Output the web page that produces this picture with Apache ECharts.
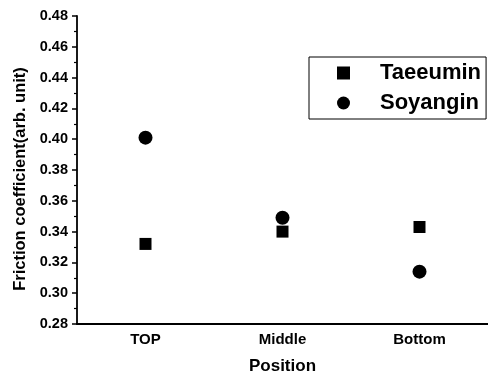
<!DOCTYPE html>
<html>
<head>
<meta charset="utf-8">
<script src="https://cdn.jsdelivr.net/npm/echarts@6/dist/echarts.min.js"></script>
<style>
html,body{margin:0;padding:0;background:#fff;}
#chart{width:488px;height:381px;}
</style>
</head>
<body>
<div id="chart"></div>
<script>
//位置类别
const positions = ['TOP', 'Middle', 'Bottom'];
//各体质的摩擦系数
const taeeumin = [0.332, 0.340, 0.343];
const soyangin = [0.401, 0.349, 0.314];
//y轴范围
const yMin = 0.28, yMax = 0.48, yStep = 0.02;

const font = 'Liberation Sans, Arial, sans-serif';
let myChart = echarts.init(document.getElementById('chart'), null, {renderer: 'canvas'});

let chartOption = {
	animation: false,
	backgroundColor: '#fff',
	grid: {left: 77, right: 0, top: 16, bottom: 57},
	legend: {
		orient: 'vertical',
		left: 309, top: 57,
		padding: [5, 5, 5, 28],
		itemWidth: 13, itemHeight: 13, itemGap: 8,
		borderColor: '#000', borderWidth: 1,
		textStyle: {fontFamily: font, fontSize: 22, fontWeight: 'bold', color: '#000', padding: [0, 0, 0, 25]},
		data: [{name: 'Taeeumin', icon: 'rect'}, {name: 'Soyangin', icon: 'circle'}]
	},
	xAxis: [
		{
			type: 'category',
			data: positions,
			name: 'Position', nameLocation: 'middle', nameGap: 34,
			nameTextStyle: {fontFamily: font, fontSize: 17, fontWeight: 'bold', color: '#000'},
			axisLine: {lineStyle: {color: '#000', width: 1.8}},
			axisTick: {alignWithLabel: true, length: 5, lineStyle: {color: '#000', width: 1.5}},
			axisLabel: {fontFamily: font, fontSize: 15, fontWeight: 'bold', color: '#000', margin: 8},
			splitLine: {show: false}
		},
		{
			type: 'category',
			data: positions,
			position: 'bottom',
			axisLine: {show: false},
			axisTick: {length: 3, lineStyle: {color: '#000', width: 1.2}},
			axisLabel: {show: false},
			splitLine: {show: false}
		}
	],
	yAxis: {
		type: 'value',
		min: yMin, max: yMax, interval: yStep,
		name: 'Friction coefficient(arb. unit)', nameLocation: 'middle', nameGap: 48,
		nameTextStyle: {fontFamily: font, fontSize: 16.5, fontWeight: 'bold', color: '#000', padding: [0, 18, 0, 0]},
		axisLine: {show: true, lineStyle: {color: '#000', width: 1.8}},
		axisTick: {show: true, length: 5, lineStyle: {color: '#000', width: 1.5}},
		minorTick: {show: true, splitNumber: 2, length: 3, lineStyle: {color: '#000', width: 1.2}},
		axisLabel: {fontFamily: font, fontSize: 14.5, fontWeight: 'bold', color: '#000', margin: 9,
			formatter: function (v) { return v.toFixed(2); }},
		splitLine: {show: false}
	},
	series: [
		{
			name: 'Taeeumin', type: 'scatter', symbol: 'rect', symbolSize: 12,
			itemStyle: {color: '#000', opacity: 1},
			data: taeeumin
		},
		{
			name: 'Soyangin', type: 'scatter', symbol: 'circle', symbolSize: 14,
			itemStyle: {color: '#000', opacity: 1},
			data: soyangin
		}
	]
};
myChart.setOption(chartOption);
</script>
</body>
</html>
